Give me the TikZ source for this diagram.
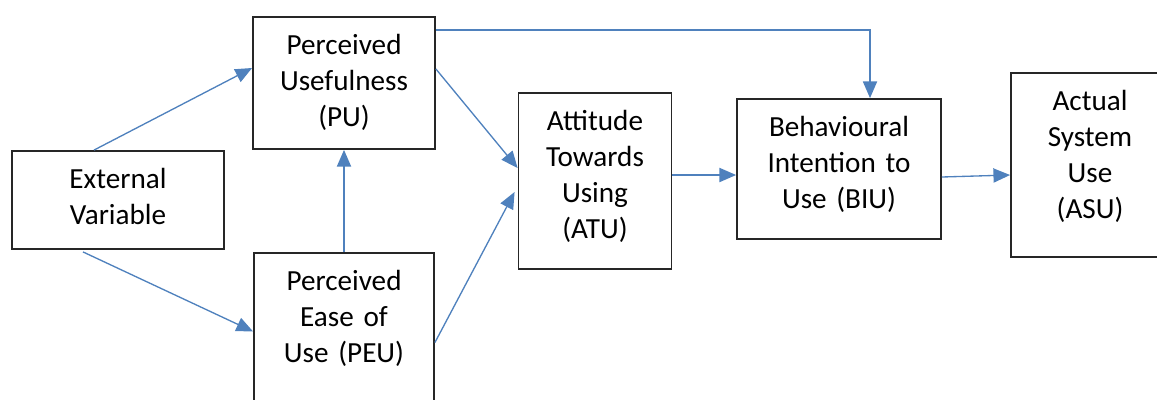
\documentclass[tikz,border=0pt]{standalone}
\usepackage{fontspec}
\setmainfont{Carlito}
\usetikzlibrary{arrows.meta,positioning,calc}

\definecolor{linkblue}{RGB}{79,129,189}

\tikzset{
    box/.style 2 args={draw=black!85, line width=1.1pt, minimum width=#1*0.6pt, minimum height=#2*0.6pt},
    txt/.style={anchor=base, align=center, text width=#1*0.6pt, inner sep=0pt, font=\fontsize{17.5}{21.6}\selectfont},
    link/.style={draw=linkblue, line width=0.8pt, -{Triangle[length=10pt,width=8.5pt]}}
}

\begin{document}
\begin{tikzpicture}[x=0.6pt,y=-0.6pt]
    
    % page size of the reference
    \useasboundingbox (0,0) rectangle (1157,399);
    
    % boxes
    \node[box={212}{98}]  (ev)  at (118,200)   {};
    \node[box={182}{132}] (pu)  at (344,83)    {};
    \node[box={180}{157}] (peu) at (344,331.5) {};
    \node[box={153}{176}] (atu) at (595,181)   {};
    \node[box={204}{140}] (biu) at (839,169)   {};
    \node[box={158}{184}] (asu) at (1090,165)  {};
    
    % texts, hung from the top of each box
    \node[txt=200] (evtxt)  at ($(ev.north)+(0,38)$)  {External\\Variable};
    \node[txt=170] (putxt)  at ($(pu.north)+(0,38)$)  {Perceived\\Usefulness\\(PU)};
    \node[txt=170] (peutxt) at ($(peu.north)+(0,38)$) {Perceived\\Ease of\\Use (PEU)};
    \node[txt=145] (atutxt) at ($(atu.north)+(0,38)$) {Attitude\\Towards\\Using\\(ATU)};
    \node[txt=195] (biutxt) at ($(biu.north)+(0,38)$) {Behavioural\\Intention to\\Use (BIU)};
    \node[txt=150] (asutxt) at ($(asu.north)+(0,38)$) {Actual\\System\\Use\\(ASU)};
    
    % connectors
    \draw[link] ($(ev.north)+(-24,0)$) -- ($(pu.west)+(0,-15)$);
    \draw[link] ($(ev.south)+(-35,2)$) -- (peu.west);
    \draw[link] (peu.north) -- (pu.south);
    \draw[link] ($(pu.east)+(0,-14)$) -- ($(atu.west)+(0,-13)$);
    \draw[link] ($(peu.east)+(0,11)$) -- ($(atu.west)+(-3,11)$);
    \draw[link] ($(pu.north east)+(0,14)$) -| ($(biu.north)+(31,0)$);
    \draw[link] ($(atu.east)+(0,-6)$) -- ($(biu.west)+(0,6)$);
    \draw[link] ($(biu.east)+(0,8)$) -- ($(asu.west)+(0,10)$);
    
\end{tikzpicture}
\end{document}
